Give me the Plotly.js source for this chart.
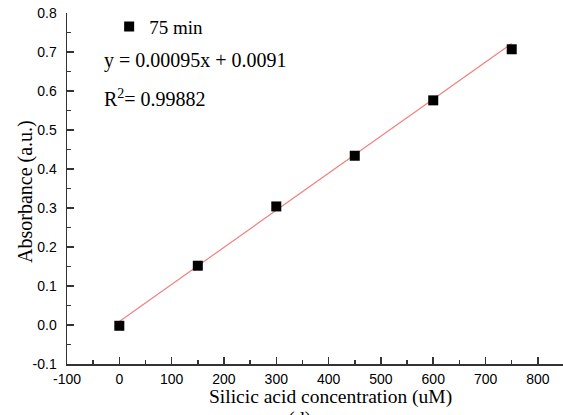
<!DOCTYPE html>
<html><head><meta charset="utf-8">
<script src="https://cdn.plot.ly/plotly-3.0.1.min.js"></script>
<style>html,body{margin:0;padding:0;background:#fff;}#c{width:563px;height:415px;}</style>
</head><body><div id="c"></div>
<script>
var concentration = [0, 150, 300, 450, 600, 750];
var absorbance = [-0.002, 0.152, 0.304, 0.434, 0.576, 0.707];
var slope = 0.00095, intercept = 0.0091;
var fitX = [0, 750];
var fitY = fitX.map(function(x){return slope*x + intercept;});
var xTicks = [-100, 0, 100, 200, 300, 400, 500, 600, 700, 800];
var xTickText = ['-100', '0', '100', '200', '300', '400', '500', '600', '700', '800'];
var yTicks = [-0.1, 0.0, 0.1, 0.2, 0.3, 0.4, 0.5, 0.6, 0.7, 0.8];
var yTickText = ['-0.1', '0.0', '0.1', '0.2', '0.3', '0.4', '0.5', '0.6', '0.7', '0.8'];

var serif = 'Liberation Serif, Times New Roman, serif';
var sans = 'Liberation Sans, Arial, sans-serif';

var traces = [
  {x: fitX, y: fitY, mode: 'lines', line: {color: '#f08080', width: 1.2}, showlegend: false, hoverinfo: 'skip'},
  {x: concentration, y: absorbance, mode: 'markers', name: '75 min',
   marker: {symbol: 'square', size: 10, color: '#000'}}
];
var axisCommon = {
  showgrid: false, zeroline: false, showline: true, linecolor: '#333', linewidth: 1.5,
  ticks: 'inside', ticklen: 7, tickwidth: 1.5, tickcolor: '#333',
  tickfont: {family: sans, size: 14, color: '#000'}
};
var minorCommon = {ticks: 'inside', ticklen: 4, tickwidth: 1.5, tickcolor: '#333'};
var layout = {
  width: 563, height: 415,
  margin: {l: 67, r: 0, t: 13, b: 51},
  paper_bgcolor: '#fff', plot_bgcolor: '#fff',
  showlegend: true,
  legend: {x: 0.085, y: 1.015, xanchor: 'left', yanchor: 'top', bgcolor: 'rgba(0,0,0,0)',
           font: {family: serif, size: 19, color: '#000'}},
  xaxis: Object.assign({}, axisCommon, {
    range: [-100, 848], tickmode: 'array', tickvals: xTicks, ticktext: xTickText,
    ticklabelstandoff: 2,
    minor: Object.assign({dtick: 50}, minorCommon)
  }),
  yaxis: Object.assign({}, axisCommon, {
    range: [-0.1, 0.8], tickmode: 'array', tickvals: yTicks, ticktext: yTickText,
    ticklabelstandoff: 6,
    minor: Object.assign({dtick: 0.05}, minorCommon)
  }),
  annotations: [
    {xref: 'paper', yref: 'paper', x: 0.07, y: 0.865, xanchor: 'left', yanchor: 'middle', showarrow: false,
     text: 'y = 0.00095x + 0.0091', font: {family: serif, size: 20, color: '#000'}},
    {xref: 'paper', yref: 'paper', x: 0.07, y: 0.757, xanchor: 'left', yanchor: 'middle', showarrow: false,
     text: 'R<sup>2</sup>= 0.99882', font: {family: serif, size: 20, color: '#000'}},
    {xref: 'paper', yref: 'paper', x: 0.531, y: -0.094, xanchor: 'center', yanchor: 'middle', showarrow: false,
     text: 'Silicic acid concentration (uM)', font: {family: serif, size: 19.5, color: '#000'}},
    {xref: 'paper', yref: 'paper', x: 0, xshift: -42, y: 0.49, xanchor: 'center', yanchor: 'middle', showarrow: false,
     textangle: -90, text: 'Absorbance (a.u.)', font: {family: serif, size: 20, color: '#000'}},
    {xref: 'paper', yref: 'paper', x: 0.468, y: -0.121, xanchor: 'center', yanchor: 'top', showarrow: false,
     text: '(d)', font: {family: serif, size: 20, color: '#000'}}
  ]
};
Plotly.newPlot('c', traces, layout, {displayModeBar: false, staticPlot: true});
</script></body></html>
